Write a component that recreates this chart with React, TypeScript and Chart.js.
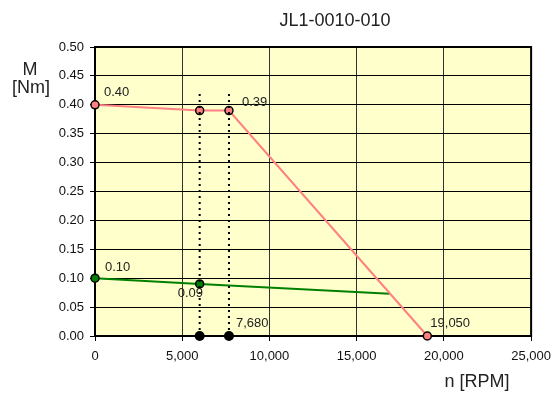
import React, { useEffect, useRef } from "react";
import { Chart, registerables } from "chart.js";

Chart.register(...registerables);

const title = "JL1-0010-010";
const yTitle = ["M", "[Nm]"];
const xTitle = "n [RPM]";

const torqueX = [0, 6000, 7680, 19050];
const torqueY = [0.4, 0.39, 0.39, 0];
const contX = [0, 6000, 16900];
const contY = [0.1, 0.09, 0.073];
const markerX = [6000, 7680];
const markerY = [0, 0];
const dottedTop = 0.42;

const labels = [
  { x: 0, y: 0.4, text: "0.40", dx: 9, dy: -12 },
  { x: 7680, y: 0.39, text: "0.39", dx: 13, dy: -8 },
  { x: 0, y: 0.1, text: "0.10", dx: 10, dy: -11 },
  { x: 6000, y: 0.09, text: "0.09", dx: -22, dy: 9.5 },
  { x: 7680, y: 0, text: "7,680", dx: 7, dy: -13 },
  { x: 19050, y: 0, text: "19,050", dx: 3, dy: -13 },
];

const FONT = "'Liberation Sans', Arial, sans-serif";

export default function App() {
  const ref = useRef<HTMLCanvasElement>(null);
  useEffect(() => {
    if (!ref.current) return;
    const bgPlugin = {
      id: "bg",
      beforeDraw(chart: any) {
        const { ctx, chartArea: a } = chart;
        ctx.save();
        ctx.fillStyle = "#FFFFCC";
        ctx.fillRect(a.left, a.top, a.right - a.left, a.bottom - a.top);
        ctx.restore();
      },
      beforeDatasetsDraw(chart: any) {
        const { ctx, chartArea: a } = chart;
        ctx.save();
        ctx.strokeStyle = "#000";
        ctx.lineWidth = 2;
        ctx.strokeRect(a.left, a.top, a.right - a.left, a.bottom - a.top);
        ctx.restore();
      },
      afterDatasetsDraw(chart: any) {
        const { ctx, scales } = chart;
        ctx.save();
        ctx.fillStyle = "#222";
        ctx.font = `13px ${FONT}`;
        ctx.textBaseline = "middle";
        ctx.textAlign = "left";
        for (const l of labels) {
          const px = scales.x.getPixelForValue(l.x);
          const py = scales.y.getPixelForValue(l.y);
          ctx.fillText(l.text, px + l.dx, py + l.dy);
        }
        ctx.font = `18px ${FONT}`;
        ctx.textAlign = "center";
        ctx.fillText(title, 335, 21);
        ctx.fillText(yTitle[0], 30, 70);
        ctx.fillText(yTitle[1], 31, 88);
        ctx.fillText(xTitle, 477, 382);
        ctx.restore();
      },
    };
    const chart = new Chart(ref.current, {
      type: "scatter",
      data: {
        datasets: [
          {
            data: [
              { x: markerX[0], y: 0 },
              { x: markerX[0], y: dottedTop },
            ],
            showLine: true,
            borderColor: "#000",
            borderWidth: 2,
            borderDash: [2, 4],
            pointRadius: 0,
          },
          {
            data: [
              { x: markerX[1], y: 0 },
              { x: markerX[1], y: dottedTop },
            ],
            showLine: true,
            borderColor: "#000",
            borderWidth: 2,
            borderDash: [2, 4],
            pointRadius: 0,
          },
          {
            data: torqueX.map((x, i) => ({ x, y: torqueY[i] })),
            showLine: true,
            borderColor: "#FF8080",
            borderWidth: 2,
            pointRadius: 4,
            pointBackgroundColor: "#FF8080",
            pointBorderColor: "#000",
            pointBorderWidth: 1.5,
            clip: false,
          },
          {
            data: contX.map((x, i) => ({ x, y: contY[i] })),
            showLine: true,
            borderColor: "#008000",
            borderWidth: 2,
            pointRadius: [4, 4, 0],
            pointBackgroundColor: "#008000",
            pointBorderColor: "#000",
            pointBorderWidth: 1.5,
            clip: false,
          },
          {
            data: markerX.map((x, i) => ({ x, y: markerY[i] })),
            showLine: false,
            pointRadius: 5,
            pointBackgroundColor: "#000",
            pointBorderColor: "#000",
            pointBorderWidth: 0,
            clip: false,
          },
        ],
      } as any,
      options: {
        responsive: false,
        animation: false,
        layout: { padding: { top: 47, right: 27, left: 0, bottom: 0 } },
        plugins: {
          legend: { display: false },
          tooltip: { enabled: false },
          title: { display: false },
        },
        scales: {
          x: {
            type: "linear",
            min: 0,
            max: 25000,
            afterFit(s: any) {
              s.height = 58;
            },
            ticks: {
              stepSize: 5000,
              color: "#111",
              font: { family: FONT, size: 13 },
              padding: 8,
              maxRotation: 0,
              callback: (v: any) => Number(v).toLocaleString("en-US"),
            },
            grid: { color: "#333", lineWidth: 1, tickLength: 5, tickColor: "#000" },
            border: { color: "#000", width: 2 },
          },
          y: {
            type: "linear",
            min: 0,
            max: 0.5,
            afterFit(s: any) {
              s.width = 95;
            },
            ticks: {
              stepSize: 0.05,
              color: "#111",
              font: { family: FONT, size: 13 },
              padding: 6,
              callback: (v: any) => Number(v).toFixed(2),
            },
            grid: { color: "#000", lineWidth: 1, tickLength: 5, tickColor: "#000" },
            border: { color: "#000", width: 2 },
          },
        },
      } as any,
      plugins: [bgPlugin],
    });
    return () => chart.destroy();
  }, []);
  return (
    <div style={{ position: "fixed", left: 0, top: 0, width: 559, height: 394, background: "#fff" }}>
      <canvas ref={ref} width={559} height={394} style={{ width: 559, height: 394 }} />
    </div>
  );
}
